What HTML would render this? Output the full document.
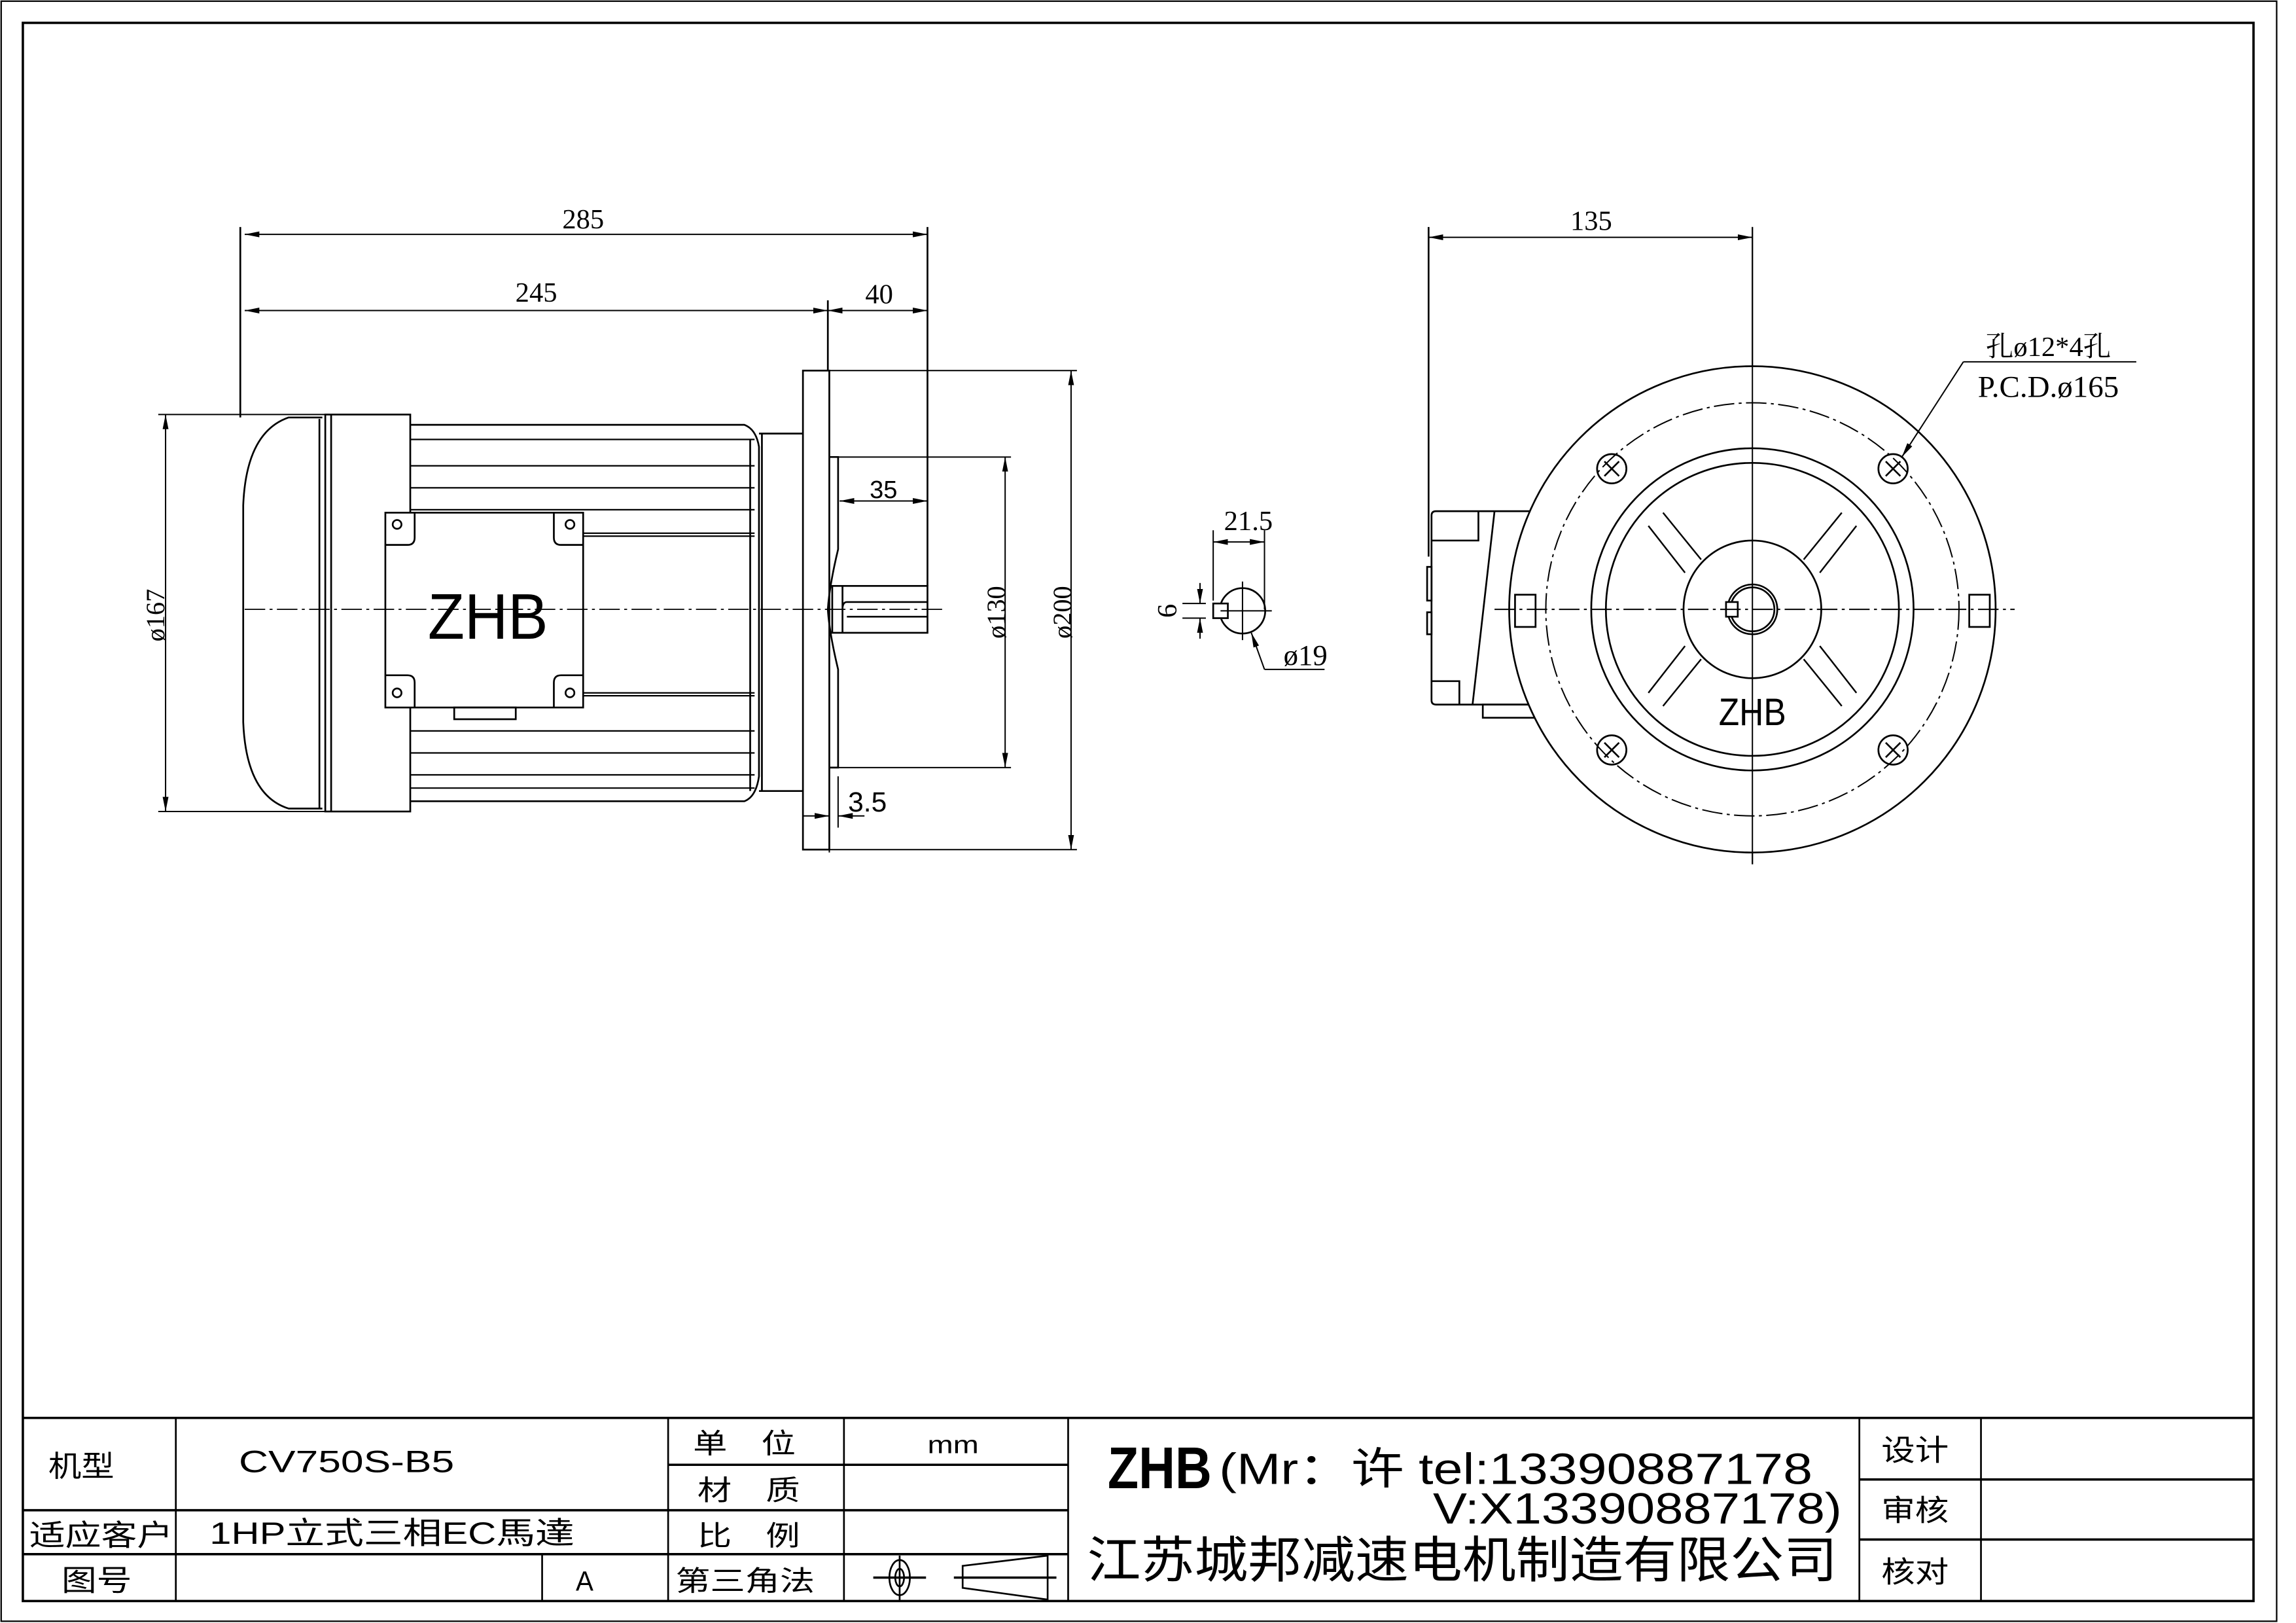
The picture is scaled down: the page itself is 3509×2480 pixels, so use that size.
<!DOCTYPE html>
<html><head><meta charset="utf-8"><style>
html,body{margin:0;padding:0;background:#fff}
svg{display:block}
text{font-family:"Liberation Sans","Noto Sans CJK SC",sans-serif;fill:#000}
.c{font-family:"Liberation Sans","WenQuanYi Zen Hei","Noto Sans CJK SC",sans-serif}
.s{font-family:"Liberation Serif","Noto Serif CJK SC",serif}
</style></head><body>
<svg width="3509" height="2480" viewBox="0 0 1567 1108" preserveAspectRatio="none" xmlns="http://www.w3.org/2000/svg">
<defs>
<marker id="a" viewBox="0 0 10 4" refX="10" refY="2" markerWidth="10" markerHeight="4" orient="auto-start-reverse" markerUnits="userSpaceOnUse"><path d="M0,0 L10,2 L0,4 z" fill="#000"/></marker>
</defs>
<rect width="1567" height="1108" fill="#fff"/>
<g fill="none" stroke="#000" stroke-width="1.2">
<rect x="0.8" y="0.8" width="1553" height="1106" stroke-width="1"/>
<!-- frame -->
<rect x="15.6" y="15.6" width="1522.4" height="1077.4" stroke-width="1.6"/>
<!-- title block -->
<line x1="15" y1="968" x2="1538" y2="968" stroke-width="1.6"/>
<line x1="120" y1="968" x2="120" y2="1093"/>
<line x1="456" y1="968" x2="456" y2="1093"/>
<line x1="576" y1="968" x2="576" y2="1093"/>
<line x1="729" y1="968" x2="729" y2="1093"/>
<line x1="1269" y1="968" x2="1269" y2="1093"/>
<line x1="1352" y1="968" x2="1352" y2="1093"/>
<line x1="370" y1="1061" x2="370" y2="1093"/>
<line x1="15" y1="1031" x2="729" y2="1031" stroke-width="1.6"/>
<line x1="15" y1="1061" x2="729" y2="1061" stroke-width="1.6"/>
<line x1="456" y1="1000" x2="729" y2="1000" stroke-width="1.6"/>
<line x1="1269" y1="1010" x2="1538" y2="1010" stroke-width="1.6"/>
<line x1="1269" y1="1051" x2="1538" y2="1051" stroke-width="1.6"/>
<!-- projection symbols -->
<ellipse cx="614" cy="1077" rx="7" ry="12"/>
<ellipse cx="614" cy="1077" rx="3" ry="6"/>
<line x1="596" y1="1077" x2="632" y2="1077" stroke-width="1.6"/>
<line x1="614" y1="1062" x2="614" y2="1093"/>
<path d="M657,1069 L715,1062 L715,1092 L657,1084 Z"/>
<line x1="651" y1="1077" x2="721" y2="1077" stroke-width="1.6"/>

<!-- ===== LEFT VIEW ===== -->
<line x1="164" y1="155" x2="164" y2="285"/>
<line x1="633" y1="155" x2="633" y2="400"/>
<line x1="565" y1="205" x2="565" y2="253"/>
<line x1="167" y1="160" x2="633" y2="160" marker-start="url(#a)" marker-end="url(#a)" stroke-width="0.9"/>
<line x1="167" y1="212" x2="565" y2="212" marker-start="url(#a)" marker-end="url(#a)" stroke-width="0.9"/>
<line x1="565" y1="212" x2="633" y2="212" marker-start="url(#a)" marker-end="url(#a)" stroke-width="0.9"/>
<line x1="108" y1="283" x2="225" y2="283" stroke-width="0.9"/>
<line x1="108" y1="554" x2="225" y2="554" stroke-width="0.9"/>
<line x1="113" y1="283" x2="113" y2="554" marker-start="url(#a)" marker-end="url(#a)" stroke-width="0.9"/>
<path d="M220,285 L197,285 Q168,295 166,345 L166,493 Q168,543 197,552 L220,552"/>
<line x1="218" y1="286" x2="218" y2="552"/>
<rect x="222" y="283" width="58" height="271"/>
<line x1="226" y1="283" x2="226" y2="554"/>
<path d="M280,290 L508,290 Q516,293 518,305 L518,530 Q516,544 508,547 L280,547"/>
<g stroke-width="1">
<line x1="280" y1="300" x2="515" y2="300"/>
<line x1="280" y1="318" x2="515" y2="318"/>
<line x1="280" y1="333" x2="515" y2="333"/>
<line x1="280" y1="348" x2="515" y2="348"/>
<line x1="398" y1="364" x2="515" y2="364"/>
<line x1="398" y1="366" x2="515" y2="366"/>
<line x1="398" y1="473" x2="515" y2="473"/>
<line x1="398" y1="475" x2="515" y2="475"/>
<line x1="280" y1="499" x2="515" y2="499"/>
<line x1="280" y1="514" x2="515" y2="514"/>
<line x1="280" y1="529" x2="515" y2="529"/>
<line x1="280" y1="538" x2="515" y2="538"/>
</g>
<line x1="512" y1="300" x2="512" y2="540"/>
<rect x="263" y="350" width="135" height="133" fill="#fff"/>
<path d="M263,372 L278,372 Q283,372 283,367 L283,350"/>
<path d="M398,372 L383,372 Q378,372 378,367 L378,350"/>
<path d="M263,461 L278,461 Q283,461 283,466 L283,483"/>
<path d="M398,461 L383,461 Q378,461 378,466 L378,483"/>
<circle cx="271" cy="358" r="3"/><circle cx="389" cy="358" r="3"/>
<circle cx="271" cy="473" r="3"/><circle cx="389" cy="473" r="3"/>
<rect x="310" y="483" width="42" height="8"/>
<path d="M518,296 L548,296 M518,540 L548,540 M520,296 L520,540"/>
<rect x="548" y="253" width="18" height="327"/>
<line x1="566" y1="253" x2="735" y2="253" stroke-width="0.9"/>
<line x1="566" y1="580" x2="735" y2="580" stroke-width="0.9"/>
<path d="M566,312 L572,312 L572,375 Q566,400 565,416 Q566,432 572,457 L572,524 L566,524"/>
<line x1="572" y1="312" x2="690" y2="312" stroke-width="0.9"/>
<line x1="572" y1="524" x2="690" y2="524" stroke-width="0.9"/>
<rect x="568" y="400" width="65" height="32"/>
<path d="M575,400 L575,432 M633,411 L578,411 Q575,411 575,416 M633,421 L578,421"/>
<line x1="686" y1="312" x2="686" y2="524" marker-start="url(#a)" marker-end="url(#a)" stroke-width="0.9"/>
<line x1="731" y1="253" x2="731" y2="580" marker-start="url(#a)" marker-end="url(#a)" stroke-width="0.9"/>
<line x1="573" y1="342" x2="633" y2="342" marker-start="url(#a)" marker-end="url(#a)" stroke-width="0.9"/>
<line x1="566" y1="540" x2="566" y2="582" stroke-width="0.9"/>
<line x1="572" y1="530" x2="572" y2="565" stroke-width="0.9"/>
<line x1="548" y1="557" x2="566" y2="557" marker-end="url(#a)" stroke-width="0.9"/>
<line x1="590" y1="557" x2="572" y2="557" marker-end="url(#a)" stroke-width="0.9"/>
<line x1="167" y1="416" x2="645" y2="416" stroke-width="0.8" stroke-dasharray="14,3,2,3"/>

<!-- ===== SHAFT SECTION ===== -->
<circle cx="848" cy="417" r="15.5"/>
<rect x="828" y="412" width="10" height="10" fill="#fff"/>
<line x1="848" y1="397" x2="848" y2="437" stroke-width="0.9"/>
<line x1="833" y1="417" x2="868" y2="417" stroke-width="0.9"/>
<line x1="828" y1="362" x2="828" y2="410" stroke-width="0.9"/>
<line x1="863" y1="362" x2="863" y2="416" stroke-width="0.9"/>
<line x1="828" y1="370" x2="863" y2="370" marker-start="url(#a)" marker-end="url(#a)" stroke-width="0.9"/>
<line x1="807" y1="412" x2="823" y2="412" stroke-width="0.9"/>
<line x1="807" y1="422" x2="823" y2="422" stroke-width="0.9"/>
<line x1="819" y1="398" x2="819" y2="412" marker-end="url(#a)" stroke-width="0.9"/>
<line x1="819" y1="436" x2="819" y2="422" marker-end="url(#a)" stroke-width="0.9"/>
<polyline points="863,457 854,432" marker-end="url(#a)" stroke-width="0.9"/>
<line x1="863" y1="457" x2="904" y2="457" stroke-width="0.9"/>

<!-- ===== RIGHT VIEW ===== -->
<line x1="975" y1="155" x2="975" y2="380"/>
<line x1="1196" y1="155" x2="1196" y2="590" stroke-width="0.9"/>
<line x1="975" y1="162" x2="1196" y2="162" marker-start="url(#a)" marker-end="url(#a)" stroke-width="0.9"/>
<!-- terminal box side -->
<path d="M1050,349 L980,349 Q977,349 977,352 L977,478 Q977,481 980,481 L1050,481"/>
<path d="M977,369 L1009,369 L1009,349"/>
<path d="M977,465 L996,465 L996,481"/>
<line x1="1020" y1="349" x2="1005" y2="481"/>
<rect x="1012" y="481" width="38" height="9"/>
<rect x="974" y="387" width="3" height="23"/>
<rect x="974" y="418" width="3" height="15"/>
<circle cx="1196" cy="416" r="166" fill="#fff"/>
<circle cx="1196" cy="416" r="141" stroke-width="0.9" stroke-dasharray="14,3,2,3"/>
<circle cx="1196" cy="416" r="110"/>
<circle cx="1196" cy="416" r="100"/>
<g stroke-width="1.1">
<line x1="1150" y1="391" x2="1125" y2="359"/><line x1="1161" y1="382" x2="1135" y2="350"/>
<line x1="1242" y1="391" x2="1267" y2="359"/><line x1="1231" y1="382" x2="1257" y2="350"/>
<line x1="1150" y1="441" x2="1125" y2="473"/><line x1="1161" y1="450" x2="1135" y2="482"/>
<line x1="1242" y1="441" x2="1267" y2="473"/><line x1="1231" y1="450" x2="1257" y2="482"/>
</g>
<circle cx="1196" cy="416" r="47" fill="#fff"/>
<circle cx="1196" cy="416" r="17"/>
<circle cx="1196" cy="416" r="15"/>
<rect x="1178" y="411" width="8" height="10" fill="#fff"/>
<line x1="1196" y1="155" x2="1196" y2="590" stroke-width="0.9"/>
<g>
<circle cx="1100" cy="320" r="10"/><path d="M1095,315 l10,10 M1105,315 l-10,10"/>
<circle cx="1292" cy="320" r="10"/><path d="M1287,315 l10,10 M1297,315 l-10,10"/>
<circle cx="1100" cy="512" r="10"/><path d="M1095,507 l10,10 M1105,507 l-10,10"/>
<circle cx="1292" cy="512" r="10"/><path d="M1287,507 l10,10 M1297,507 l-10,10"/>
</g>
<rect x="1034" y="406" width="14" height="22"/>
<rect x="1344" y="406" width="14" height="22"/>
<line x1="1020" y1="416" x2="1375" y2="416" stroke-width="0.9" stroke-dasharray="14,3,2,3"/>
<line x1="1340" y1="247" x2="1298" y2="312" marker-end="url(#a)" stroke-width="0.9"/>
<line x1="1340" y1="247" x2="1458" y2="247" stroke-width="0.9"/>
</g>

<!-- TEXT -->
<text x="398" y="156" font-size="19" text-anchor="middle" class="s">285</text>
<text x="366" y="206" font-size="19" text-anchor="middle" class="s">245</text>
<text x="600" y="207" font-size="19" text-anchor="middle" class="s">40</text>
<text x="603" y="340" font-size="17" text-anchor="middle">35</text>
<text x="592" y="554" font-size="19" text-anchor="middle">3.5</text>
<text x="333" y="436" font-size="44" text-anchor="middle" textLength="82" lengthAdjust="spacingAndGlyphs">ZHB</text>
<text transform="translate(112,420) rotate(-90)" font-size="18" text-anchor="middle" class="s">ø167</text>
<text transform="translate(686,418) rotate(-90)" font-size="18" text-anchor="middle" class="s">ø130</text>
<text transform="translate(731,418) rotate(-90)" font-size="18" text-anchor="middle" class="s">ø200</text>
<text x="852" y="362" font-size="19" text-anchor="middle" class="s">21.5</text>
<text transform="translate(803,417) rotate(-90)" font-size="19" text-anchor="middle" class="s">6</text>
<text x="891" y="454" font-size="20" text-anchor="middle" class="s">ø19</text>
<text x="1086" y="157" font-size="19" text-anchor="middle" class="s">135</text>
<text x="1398" y="243" font-size="19" text-anchor="middle" class="s">孔ø12*4孔</text>
<text x="1398" y="271" font-size="21" text-anchor="middle" class="s">P.C.D.ø165</text>
<text x="1196" y="495" font-size="26" text-anchor="middle" textLength="46" lengthAdjust="spacingAndGlyphs">ZHB</text>

<text x="33" y="1008" font-size="20" class="c" textLength="45" lengthAdjust="spacingAndGlyphs">机型</text>
<text x="163" y="1005" font-size="21" textLength="147" lengthAdjust="spacingAndGlyphs">CV750S-B5</text>
<text x="20" y="1055" font-size="20" class="c" textLength="98" lengthAdjust="spacingAndGlyphs">适应客户</text>
<text x="143" y="1054" font-size="21" class="c" textLength="249" lengthAdjust="spacingAndGlyphs">1HP立式三相EC馬達</text>
<text x="42" y="1086" font-size="20" class="c" textLength="48" lengthAdjust="spacingAndGlyphs">图号</text>
<text x="393" y="1086" font-size="19" textLength="12" lengthAdjust="spacingAndGlyphs">A</text>
<text x="473" y="992" font-size="19" class="c" textLength="70" lengthAdjust="spacingAndGlyphs">单　位</text>
<text x="476" y="1024" font-size="19" class="c" textLength="70" lengthAdjust="spacingAndGlyphs">材　质</text>
<text x="476" y="1055" font-size="19" class="c" textLength="70" lengthAdjust="spacingAndGlyphs">比　例</text>
<text x="461" y="1086" font-size="19" class="c" textLength="95" lengthAdjust="spacingAndGlyphs">第三角法</text>
<text x="633" y="992" font-size="17" textLength="35" lengthAdjust="spacingAndGlyphs">mm</text>
<text x="756" y="1016" font-size="40" font-weight="bold" textLength="71" lengthAdjust="spacingAndGlyphs">ZHB</text>
<text x="832" y="1013" font-size="30" class="c" textLength="405" lengthAdjust="spacingAndGlyphs">(Mr：许 tel:13390887178</text>
<text x="978" y="1040" font-size="30" class="c" textLength="279" lengthAdjust="spacingAndGlyphs">V:X13390887178)</text>
<text x="742" y="1077" font-size="34" class="c" textLength="512" lengthAdjust="spacingAndGlyphs">江苏城邦减速电机制造有限公司</text>
<text x="1284" y="997" font-size="20" class="c" textLength="46" lengthAdjust="spacingAndGlyphs">设计</text>
<text x="1284" y="1038" font-size="20" class="c" textLength="46" lengthAdjust="spacingAndGlyphs">审核</text>
<text x="1284" y="1080" font-size="20" class="c" textLength="46" lengthAdjust="spacingAndGlyphs">核对</text>
</svg>
</body></html>
